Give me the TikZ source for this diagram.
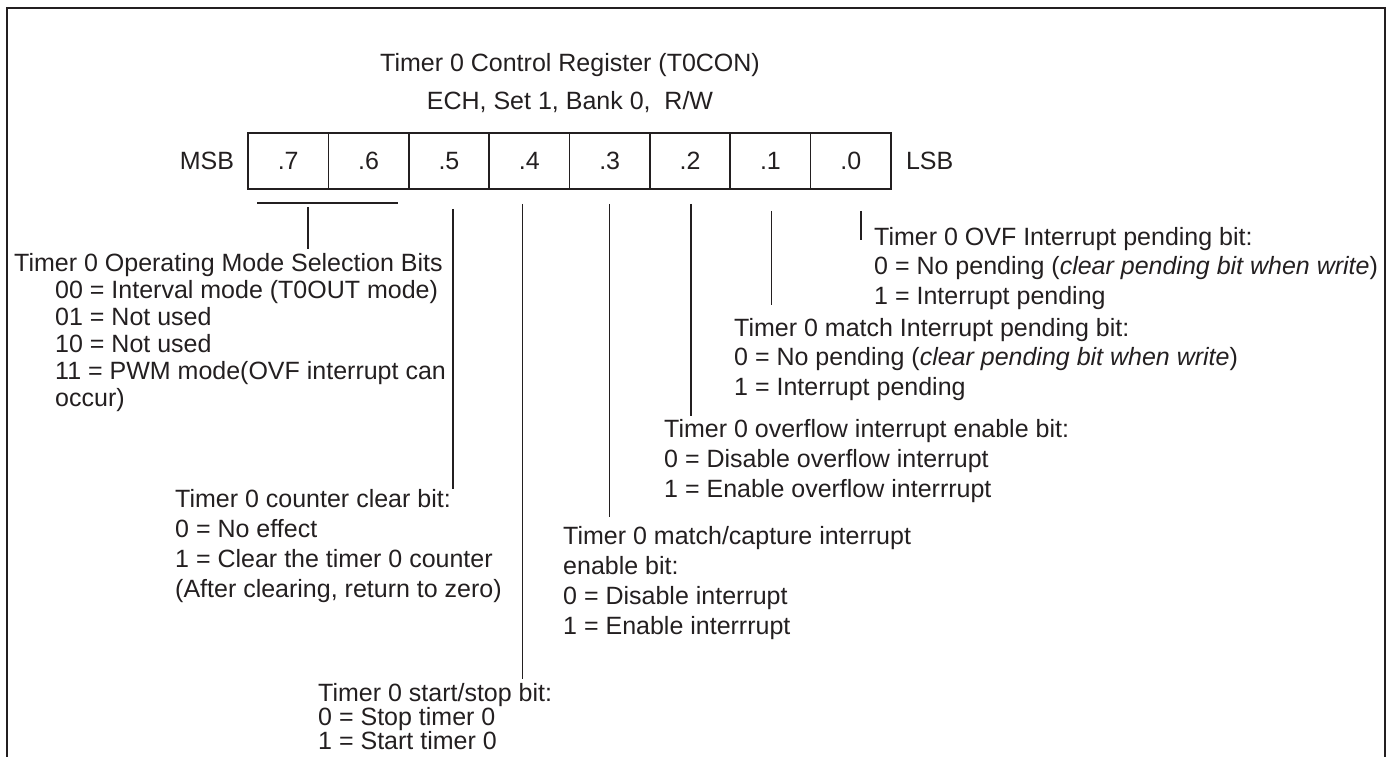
\documentclass[tikz,border=0pt]{standalone}
\usepackage{fontspec}
\setmainfont{Liberation Sans}
\usetikzlibrary{positioning}
\definecolor{ink}{RGB}{35,31,32}

\begin{document}
\begin{tikzpicture}[
  x=1pt,
  y=-1pt,
  font=\fontsize{25}{29.5}\selectfont,
  every node/.style={text=ink},
  cell/.style={
    draw=ink,
    line width=1.6pt,
    minimum width=80.4pt,
    minimum height=56pt,
    inner sep=0pt
  },
  lbl/.style={inner sep=0pt},
  desc/.style={
    inner sep=0pt,
    align=left,
    anchor=north west
  },
  lead/.style={draw=ink, line width=1.5pt}
]
\useasboundingbox (0,0) rectangle (1392,757);

% outer frame (open at the bottom)
\draw[ink, line width=2.2pt] (7,757) -- (7,8) -- (1385,8) -- (1385,757);

\def\regL{248}
\def\cellW{80.375}
\def\regY{161}

% title
\node[lbl, anchor=base] (title) at (570,72)
  {Timer 0 Control Register (T0CON)};
\node[lbl, anchor=base] (addr) at (570,110)
  {ECH, Set 1, Bank 0,\ \ R/W};

% register cells
\foreach \i in {0,...,7}{
  \pgfmathtruncatemacro\bit{7-\i}
  \pgfmathsetmacro\cx{\regL + \cellW*(\i+0.5)}
  \node[cell] (b\bit) at (\cx,\regY) {.\bit};
}

\node[lbl, left=13pt of b7] (msb) {MSB};
\node[lbl, right=14pt of b0] (lsb) {LSB};

% bit descriptions
\node[desc] (mode) at (14,253)
  {Timer 0 Operating Mode Selection Bits};
\node[desc, font=\fontsize{25}{27}\selectfont] (modes) at (55,280)
  {00 = Interval mode (T0OUT mode)\\
   01 = Not used\\
   10 = Not used\\
   11 = PWM mode(OVF interrupt can\\
   occur)};

\node[desc, font=\fontsize{25}{30}\selectfont] (clr) at (175,489)
  {Timer 0 counter clear bit:\\
   0 = No effect\\
   1 = Clear the timer 0 counter\\
   (After clearing, return to zero)};

\node[desc, font=\fontsize{25}{22.5}\selectfont] (run) at (318,683)
  {Timer 0 start/stop bit:\\
   0 = Stop timer 0\\
   1 = Start timer 0};

\node[desc, font=\fontsize{25}{30}\selectfont] (mcap) at (563,526)
  {Timer 0 match/capture interrupt\\
   enable bit:\\
   0 = Disable interrupt\\
   1 = Enable interrrupt};

\node[desc, font=\fontsize{25}{30}\selectfont] (ovfen) at (664,419)
  {Timer 0 overflow interrupt enable bit:\\
   0 = Disable overflow interrupt\\
   1 = Enable overflow interrrupt};

\node[desc] (mpnd) at (734,318)
  {Timer 0 match Interrupt pending bit:\\
   0 = No pending (\textit{clear pending bit when write})\\
   1 = Interrupt pending};

\node[desc] (opnd) at (874,227)
  {Timer 0 OVF Interrupt pending bit:\\
   0 = No pending (\textit{clear pending bit when write})\\
   1 = Interrupt pending};

% leader lines
\coordinate (brL) at ([xshift=10pt,yshift=-13pt]b7.south west);
\coordinate (brR) at ([xshift=-12pt,yshift=-13pt]b6.south east);
\draw[lead] (brL) -- (brR);
\draw[lead] ([xshift=20pt,yshift=-17pt]b7.south)
  -- ([xshift=20pt,yshift=4pt]b7.south |- mode.north);

\draw[lead] ([xshift=4pt,yshift=-19pt]b5.south)
  -- ([xshift=4pt]b5.south |- clr.north);
\draw[lead] ([xshift=-7pt,yshift=-14pt]b4.south)
  -- ([xshift=-7pt,yshift=4pt]b4.south |- run.north);
\draw[lead] ([yshift=-14pt]b3.south)
  -- ([yshift=9pt]b3.south |- mcap.north);
\draw[lead] ([xshift=1pt,yshift=-14pt]b2.south)
  -- ([xshift=1pt,yshift=3pt]b2.south |- ovfen.north);
\draw[lead] ([xshift=1pt,yshift=-21pt]b1.south)
  -- ([xshift=1pt,yshift=13pt]b1.south |- mpnd.north);
\draw[lead] ([xshift=10pt,yshift=-21pt]b0.south)
  -- ([xshift=10pt,yshift=-13pt]b0.south |- opnd.north);

\end{tikzpicture}
\end{document}
